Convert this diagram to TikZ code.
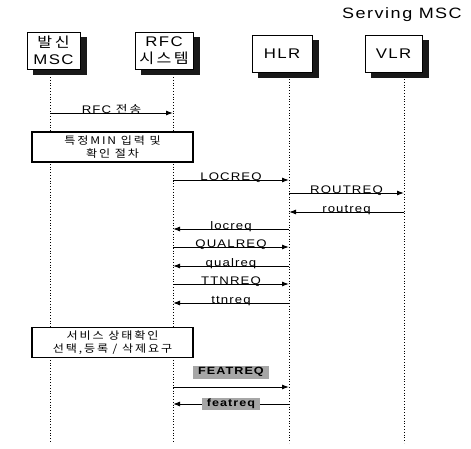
\documentclass[tikz,border=0pt]{standalone}
\usepackage{fontspec}
\setmainfont[FakeStretch=1.2,LetterSpace=10]{Liberation Sans}
\newfontfamily\kr[FakeStretch=1.15,LetterSpace=18]{Noto Sans CJK KR}
\usetikzlibrary{arrows.meta}
\definecolor{shadowgray}{RGB}{25,25,25}

\begin{document}
\begin{tikzpicture}[x=1pt,y=-1pt,
    actor/.style={draw,thick,fill=white,inner sep=0pt,minimum height=37pt,align=center,
      font=\fontsize{14}{17}\selectfont},
    boxshade/.style={fill=shadowgray,draw=shadowgray},
    proc/.style={draw,line width=1.2pt,fill=white,minimum width=161pt,minimum height=30pt,
      align=center,font=\kr\fontsize{10.5}{13}\selectfont},
    life/.style={dotted,line width=0.8pt},
    msg/.style={line width=1pt,-{Latex[length=7pt,width=5pt]}},
    lbl/.style={font=\fontsize{11}{11}\selectfont,inner sep=0pt,anchor=base},
    hilite/.style={fill=black!35,font=\bfseries\fontsize{10.5}{10.5}\selectfont,inner xsep=5pt,inner ysep=1.5pt}]
    \useasboundingbox (0,0) rectangle (471,448);

    \coordinate (mscT) at (50,77);
    \coordinate (mscB) at (50,443);
    \coordinate (rfcT) at (173,77);
    \coordinate (rfcB) at (173,443);
    \coordinate (hlrT) at (289,79);
    \coordinate (hlrB) at (289,443);
    \coordinate (vlrT) at (404,79);
    \coordinate (vlrB) at (404,443);

    \draw[life] (mscT)--(mscB) (rfcT)--(rfcB) (hlrT)--(hlrB) (vlrT)--(vlrB);

    % shadows behind the boxes
    \path[boxshade] (33,37) rectangle (86,74);
    \path[boxshade] (141,37) rectangle (199,74);
    \path[boxshade] (258,40) rectangle (318,77);
    \path[boxshade] (371,40) rectangle (428,77);

    \node[actor,minimum width=53pt] (msc) at (53.5,50.5) {{\kr 발신}\\MSC};
    \node[actor,minimum width=58pt] (rfc) at (164,50.5) {RFC\\{\kr 시스템}};
    \node[actor,minimum width=60pt] (hlr) at (282,53.5) {HLR};
    \node[actor,minimum width=57pt] (vlr) at (393.5,53.5) {VLR};
    \node[font=\fontsize{15}{16}\selectfont] (serving) at (402,15) {Serving MSC};

    \draw[msg] (mscT |- 0,113) -- node[lbl] {RFC {\kr 전송}} (rfcT |- 0,113);
    \node[proc] (minchk) at (112.5,147) {특정MIN 입력 및\\확인 절차};

    \draw[msg] (rfcT |- 0,180) -- node[lbl] {LOCREQ} (hlrT |- 0,180);
    \draw[msg] (hlrT |- 0,193) -- node[lbl] {ROUTREQ} (vlrT |- 0,193);
    \draw[msg] (vlrT |- 0,212) -- node[lbl] {routreq} (hlrT |- 0,212);
    \draw[msg] (hlrT |- 0,229) -- node[lbl] {locreq} (rfcT |- 0,229);
    \draw[msg] (rfcT |- 0,247) -- node[lbl] {QUALREQ} (hlrT |- 0,247);
    \draw[msg] (hlrT |- 0,266) -- node[lbl] {qualreq} (rfcT |- 0,266);
    \draw[msg] (rfcT |- 0,284) -- node[lbl] {TTNREQ} (hlrT |- 0,284);
    \draw[msg] (hlrT |- 0,303) -- node[lbl] {ttnreq} (rfcT |- 0,303);

    \node[proc,minimum height=29pt] (svcchk) at (112.5,342.5) {서비스 상태확인\\선택,등록 / 삭제요구};

    \draw[msg] (rfcT |- 0,387) -- node[hilite,above=8pt] {FEATREQ} (hlrT |- 0,387);
    \draw[msg] (hlrT |- 0,404) -- node[hilite] {featreq} (rfcT |- 0,404);
\end{tikzpicture}
\end{document}
